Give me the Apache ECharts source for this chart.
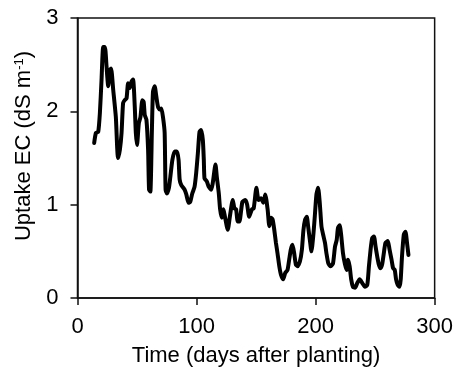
<!DOCTYPE html>
<html>
<head>
<meta charset="utf-8">
<script src="https://cdn.jsdelivr.net/npm/echarts@6/dist/echarts.min.js"></script>
<style>
  html, body { margin: 0; padding: 0; background: #fff; }
  #chart { width: 456px; height: 383px; }
</style>
</head>
<body>
<div id="chart"></div>
<script>
const days = [14, 15.5, 17.4, 18.8, 20.2, 21.6, 23, 24.4, 25.8, 27.2, 28.2, 30, 32.2, 33.3, 34, 35.6, 37, 38.3, 39.7, 41.2,
  42.5, 43.9, 45.4, 46.7, 48.1, 49, 50, 51.5, 52.9, 54.5, 55.6, 56.5, 57.9, 59.3, 60.1, 61.2, 62.5, 63.4, 64.8, 66.2,
  67.6, 69, 70.4, 71.8, 73.2, 74, 75.1, 76.8, 78, 79.7, 81.6, 83.5, 84.9, 85.8, 87.2, 90, 91.4, 93.3, 94.7, 96.4,
  98.3, 99.7, 101.1, 102.5, 103.9, 105.3, 106.1, 106.7, 108.6, 110.3, 112.3, 113.6, 115.9, 117, 118.7, 119.8, 121.2, 122.6, 124, 126.2,
  128.2, 130.4, 131.8, 133.2, 134.6, 136, 138.5, 141, 142.5, 144.2, 146.5, 148, 150.3, 152.1, 154.1, 156.1, 157.7, 159.7, 161.1, 162.5,
  163.9, 165.3, 166.7, 168, 169.5, 170.9, 172.8, 174.5, 176.4, 177.8, 179.2, 180.6, 182, 183.4, 184.8, 186.8, 188.5, 189.8, 191.2, 192.6,
  193.7, 195.2, 196.5, 198, 199.3, 200.7, 202.1, 203.5, 204.9, 206.3, 207.9, 209.1, 210.7, 212.7, 214.6, 216.3, 217.7, 218.8, 220.2, 221.6,
  223, 224.7, 226.1, 227.2, 228.6, 229.9, 231.4, 233.1, 235, 237, 239.2, 241.4, 243.4, 244.8, 246.2, 247.5, 249, 250.4, 251.7, 253.1,
  254.5, 255.9, 257.3, 258.7, 260.7, 262.1, 263.8, 265.1, 266.5, 267.6, 269, 270.5, 271.5, 272.6, 274.1, 275.5, 276.8, 278];
const uptakeEC = [1.66, 1.77, 1.78, 1.98, 2.34, 2.69, 2.69, 2.48, 2.27, 2.44, 2.46, 2.23, 1.94, 1.62, 1.50, 1.59, 1.77, 2.09, 2.12, 2.14,
  2.30, 2.25, 2.32, 2.34, 2.05, 1.77, 1.64, 1.87, 1.94, 2.12, 2.10, 1.96, 1.91, 1.59, 1.16, 1.14, 1.80, 2.21, 2.27, 2.16,
  2.05, 2.02, 2.03, 1.94, 1.77, 1.16, 1.12, 1.18, 1.30, 1.48, 1.57, 1.57, 1.48, 1.27, 1.21, 1.16, 1.11, 1.02, 1.03, 1.12,
  1.19, 1.34, 1.55, 1.78, 1.80, 1.69, 1.48, 1.28, 1.25, 1.19, 1.16, 1.23, 1.43, 1.30, 1.12, 0.95, 0.86, 0.95, 0.86, 0.73,
  0.89, 1.05, 0.96, 0.95, 0.82, 0.82, 1.03, 1.05, 1.00, 0.87, 0.95, 0.96, 1.18, 1.05, 1.07, 1.02, 1.11, 0.95, 0.77, 0.86,
  0.84, 0.73, 0.59, 0.48, 0.34, 0.25, 0.20, 0.27, 0.30, 0.41, 0.52, 0.57, 0.48, 0.36, 0.34, 0.39, 0.52, 0.73, 0.84, 0.87,
  0.77, 0.62, 0.50, 0.66, 0.87, 1.11, 1.18, 1.02, 0.77, 0.68, 0.59, 0.48, 0.37, 0.34, 0.37, 0.55, 0.62, 0.75, 0.78, 0.66,
  0.48, 0.36, 0.30, 0.41, 0.34, 0.20, 0.12, 0.11, 0.16, 0.20, 0.16, 0.12, 0.14, 0.34, 0.52, 0.64, 0.66, 0.55, 0.45, 0.36,
  0.32, 0.36, 0.48, 0.59, 0.61, 0.52, 0.41, 0.32, 0.30, 0.20, 0.14, 0.12, 0.20, 0.45, 0.68, 0.71, 0.59, 0.46];
const xTicks = [0, 100, 200, 300];
const yTicks = [0, 1, 2, 3];

const font = '"Liberation Sans", Arial, sans-serif';
const chart = echarts.init(document.getElementById('chart'));
const option = {
  animation: false,
  grid: {
    left: 77.5,
    right: 20,
    top: 18,
    bottom: 85,
    show: true,
    borderColor: '#111',
    borderWidth: 1.5,
  },
  xAxis: {
    type: 'value',
    min: xTicks[0],
    max: xTicks[xTicks.length - 1],
    interval: 100,
    name: 'Time (days after planting)',
    nameLocation: 'middle',
    nameGap: 47,
    nameTextStyle: {color: '#000', fontSize: 22, fontFamily: font},
    axisLine: {show: true, lineStyle: {color: '#111', width: 1.5}},
    axisTick: {show: true, length: 7, lineStyle: {color: '#111', width: 1.5}},
    axisLabel: {color: '#000', fontSize: 22, fontFamily: font, margin: 18},
    splitLine: {show: false},
  },
  yAxis: {
    type: 'value',
    min: yTicks[0],
    max: yTicks[yTicks.length - 1],
    interval: 1,
    axisLine: {show: true, lineStyle: {color: '#111', width: 1.5}},
    axisTick: {show: true, length: 7, lineStyle: {color: '#111', width: 1.5}},
    axisLabel: {color: '#000', fontSize: 22, fontFamily: font, margin: 19},
    splitLine: {show: false},
  },
  graphic: [
    {
      type: 'text',
      x: 24,
      y: 146,
      rotation: Math.PI / 2,
      style: {
        text: '{a|Uptake EC (dS m}{s|-1}{a|)}',
        align: 'center',
        verticalAlign: 'middle',
        fill: '#000',
        rich: {
          a: {fontSize: 22, fontFamily: font, fill: '#000'},
          s: {fontSize: 13, fontFamily: font, fill: '#000', verticalAlign: 'top', padding: [0, 0, 10, 0]},
        },
      },
    },
  ],
  series: [
    {
      type: 'line',
      data: days.map((d, i) => [d, uptakeEC[i]]),
      showSymbol: false,
      smooth: 0.2,
      lineStyle: {color: '#000', width: 4, join: 'round', cap: 'round'},
    },
  ],
};
chart.setOption(option);
</script>
</body>
</html>
